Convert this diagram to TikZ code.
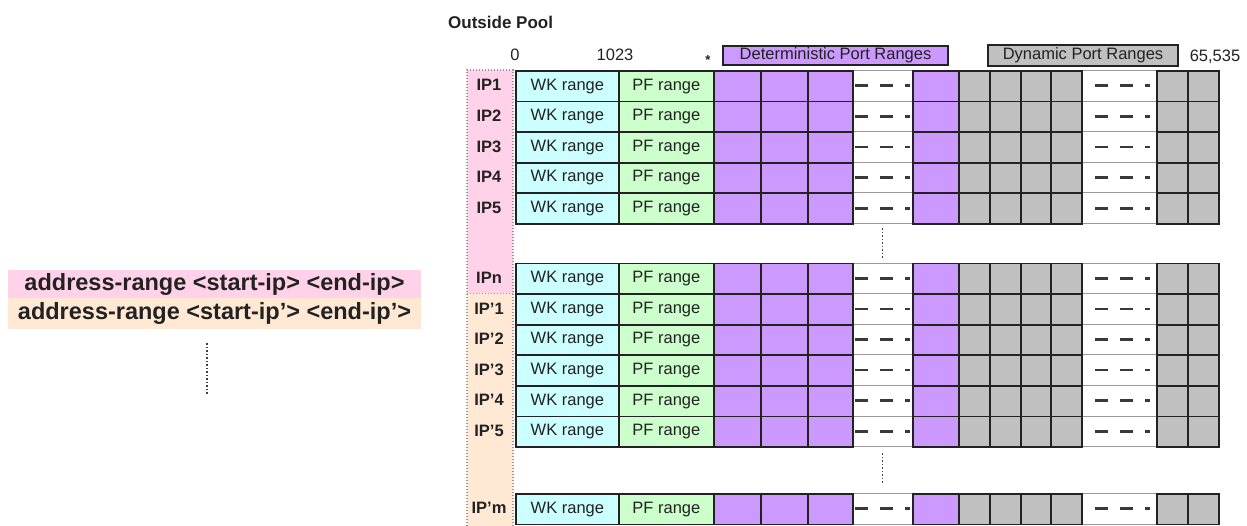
\documentclass[tikz,border=0pt]{standalone}
\usepackage{fontspec}
\setmainfont{Liberation Sans}

\definecolor{poolpink}{RGB}{255,210,234}
\definecolor{poolpeach}{RGB}{255,232,212}
\definecolor{wkcyan}{RGB}{204,255,255}
\definecolor{pfgreen}{RGB}{204,255,204}
\definecolor{detpurple}{RGB}{204,153,255}
\definecolor{dyngray}{RGB}{192,192,192}
\definecolor{ink}{RGB}{34,34,34}

\tikzset{
  txt/.style={font=\fontsize{16.5}{18}\selectfont, text=ink, inner sep=0pt},
  cellbox/.style={txt, draw=ink, line width=1.8pt, anchor=north west,
                  minimum height=30.6pt},
  wkcell/.style={fill=wkcyan},
  pfcell/.style={fill=pfgreen},
  detcell/.style={fill=detpurple},
  dyncell/.style={fill=dyngray},
  gapcell/.style={fill=white, draw=gray!80, line width=1pt},
  gapdash/.style={draw=gray!45!black, line width=2.7pt, dash pattern=on 13pt off 12pt},
  iplabel/.style={font=\bfseries\fontsize{16.5}{18}\selectfont, text=ink, inner sep=0pt},
  vdots/.style={draw=gray!50!black, line width=1.5pt, dash pattern=on 1.5pt off 2pt},
  poolframe/.style={draw=gray!80, line width=1.2pt, dash pattern=on 1.2pt off 1.8pt},
  rangekey/.style={txt, draw=ink, line width=1.8pt, inner sep=0pt},
  cmdline/.style={font=\bfseries\fontsize{23.5}{26}\selectfont, text=ink, inner sep=0pt,
                  minimum width=413pt}
}

% one cell of a port row: name, style, left x, width, top y, text
\newcommand\portcell[6]{\node[cellbox,#2,minimum width=#4pt] (#1) at (#3,#5) {#6};}

% one address row: id, label, top y
\newcommand\iprow[3]{%
  \portcell{#1-w1}{gapcell}{852}{60}{#3}{}
  \portcell{#1-w2}{gapcell}{1081}{75}{#3}{}
  \portcell{#1-wk}{wkcell}{515}{103}{#3}{WK range}
  \portcell{#1-pf}{pfcell}{618}{95}{#3}{PF range}
  \portcell{#1-d1}{detcell}{713}{47}{#3}{}
  \portcell{#1-d2}{detcell}{760}{47}{#3}{}
  \portcell{#1-d3}{detcell}{807}{45}{#3}{}
  \portcell{#1-d4}{detcell}{912}{46}{#3}{}
  \portcell{#1-g1}{dyncell}{958}{31}{#3}{}
  \portcell{#1-g2}{dyncell}{989}{31}{#3}{}
  \portcell{#1-g3}{dyncell}{1020}{30}{#3}{}
  \portcell{#1-g4}{dyncell}{1050}{31}{#3}{}
  \portcell{#1-g5}{dyncell}{1156}{31}{#3}{}
  \portcell{#1-g6}{dyncell}{1187}{31}{#3}{}
  \node[iplabel] (#1-ip) at (489,{#3+15.3}) {#2};
  \draw[gapdash] ([xshift=3pt]#1-w1.west) -- ([xshift=-3pt]#1-w1.east);
  \draw[gapdash] ([xshift=14pt]#1-w2.west) -- ([xshift=-7pt]#1-w2.east);
}

\begin{document}
\begin{tikzpicture}[x=1pt,y=-1pt]
\useasboundingbox (0,0) rectangle (1247,525);

% title and scale marks
\node[font=\bfseries\fontsize{17}{19}\selectfont, text=ink, inner sep=0pt, anchor=west]
  (title) at (448,22) {Outside Pool};
\node[txt] (p0) at (515,55) {0};
\node[txt] (p1023) at (615,55) {1023};
\node[txt, font=\bfseries\fontsize{13}{14}\selectfont] (pstar) at (708,60) {*};
\node[rangekey, fill=detpurple, minimum width=225pt, minimum height=19pt]
  (detkey) at (835.5,55.5) {Deterministic Port Ranges};
\node[rangekey, fill=dyngray, minimum width=190pt, minimum height=21pt]
  (dynkey) at (1083,55.5) {Dynamic Port Ranges};
\node[txt] (pmax) at (1215,57) {65,535};

% address column bands
\fill[poolpink] (467,70) rectangle (513,293.1);
\fill[poolpeach] (467,293.1) rectangle (513,526);
\draw[poolframe] (467,526) -- (467,70) -- (513,70) -- (513,526);
\draw[poolframe] (467,293.1) -- (513,293.1);

% first address range
\iprow{a1}{IP1}{70}
\iprow{a2}{IP2}{100.6}
\iprow{a3}{IP3}{131.2}
\iprow{a4}{IP4}{161.8}
\iprow{a5}{IP5}{192.4}
\iprow{an}{IPn}{262.5}

% second address range
\iprow{b1}{IP'1}{293.1}
\iprow{b2}{IP'2}{323.7}
\iprow{b3}{IP'3}{354.3}
\iprow{b4}{IP'4}{384.9}
\iprow{b5}{IP'5}{415.5}
\iprow{bm}{IP'm}{493}

% omitted rows
\draw[vdots] ([yshift=-4pt]a5-w1.south) -- ([yshift=5pt]an-w1.north);
\draw[vdots] ([yshift=-6pt]b5-w1.south) -- ([yshift=10pt]bm-w1.north);

% configuration commands
\node[cmdline, fill=poolpink, minimum height=28pt] (cmdA) at (214.5,284)
  {address-range <start-ip> <end-ip>};
\node[cmdline, fill=poolpeach, minimum height=31pt] (cmdB) at (214.5,313.5)
  {address-range <start-ip'> <end-ip'>};
\coordinate (moreA) at (207,343);
\coordinate (moreB) at (207,395);
\draw[vdots] (moreA) -- (moreB);
\end{tikzpicture}
\end{document}
